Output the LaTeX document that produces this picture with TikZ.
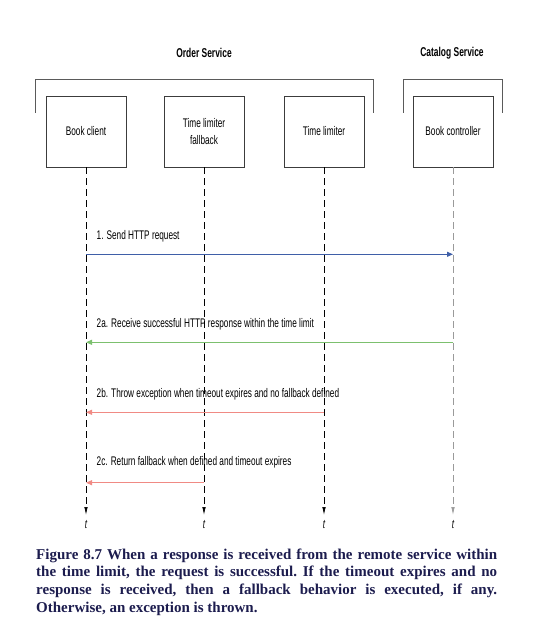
\documentclass[tikz,border=0pt]{standalone}
\usepackage{fontspec}
\usetikzlibrary{arrows.meta}
\newfontfamily\narrowfont[FakeStretch=0.66]{Liberation Sans}
\newfontfamily\capfont{Liberation Serif}
\definecolor{boxline}{HTML}{3C3C3C}
\definecolor{bracketgray}{HTML}{5A5A5A}
\definecolor{msgblue}{HTML}{3F5FA8}
\definecolor{msggreen}{HTML}{7CC06E}
\definecolor{msgred}{HTML}{F08A84}
\definecolor{capnavy}{HTML}{1C1C4E}
\definecolor{lifegray}{HTML}{9A9A9A}
\tikzset{
  actor/.style={draw=boxline, line width=0.8pt, minimum width=80pt, minimum height=71pt,
    font=\narrowfont\fontsize{12.5}{17.3}\selectfont, align=center, inner sep=0pt},
  grouplabel/.style={font=\narrowfont\bfseries\fontsize{12.8}{14}\selectfont, inner sep=0pt},
  bracketline/.style={draw=bracketgray, line width=0.8pt},
  lifeline/.style={draw=black, line width=0.7pt, dash pattern=on 7pt off 4pt,
    -{Latex[length=8pt,width=3.5pt]}},
  msglabel/.style={font=\narrowfont\fontsize{12.5}{14}\selectfont, anchor=west, inner sep=0pt},
  msg/.style={line width=1pt, -{Triangle[length=6pt,width=5pt]}},
  tlabel/.style={font=\narrowfont\itshape\fontsize{12.5}{14}\selectfont, inner sep=0pt},
}
\begin{document}
\begin{tikzpicture}[x=1pt,y=-1pt]
\useasboundingbox (0,0) rectangle (553,636);
% group labels
\node[grouplabel] (order) at (204,53) {Order Service};
\node[grouplabel] (catalog) at (452,53) {Catalog Service};
% brackets
\coordinate (ob1) at (35.5,113);
\coordinate (ob2) at (35.5,79.5);
\coordinate (ob3) at (373,79.5);
\coordinate (ob4) at (373,113);
\draw[bracketline] (ob1) -- (ob2) -- (ob3) -- (ob4);
\coordinate (cb1) at (403.5,113);
\coordinate (cb2) at (403.5,79.5);
\coordinate (cb3) at (502.5,79.5);
\coordinate (cb4) at (502.5,113);
\draw[bracketline] (cb1) -- (cb2) -- (cb3) -- (cb4);
% actors
\node[actor] (bc) at (86,131.5) {Book client};
\node[actor] (tlf) at (204,131.5) {Time limiter\\fallback};
\node[actor] (tl) at (324,131.5) {Time limiter};
\node[actor] (ctrl) at (453,131.5) {Book controller};
% lifeline ends
\coordinate (bcend) at (86,515);
\coordinate (tlfend) at (204,515);
\coordinate (tlend) at (324,515);
\coordinate (ctrlend) at (453,515);
\draw[lifeline] (bc.south) -- (bcend);
\draw[lifeline] (tlf.south) -- (tlfend);
\draw[lifeline] (tl.south) -- (tlend);
\draw[lifeline, draw=lifegray] (ctrl.south) -- (ctrlend);
\node[tlabel] (t1) at (86,525) {t};
\node[tlabel] (t2) at (204,525) {t};
\node[tlabel] (t3) at (324,525) {t};
\node[tlabel] (t4) at (453,525) {t};
% message heights
\coordinate (y1) at (0,254.3);
\coordinate (y2) at (0,342.3);
\coordinate (y3) at (0,412.3);
\coordinate (y4) at (0,482.7);
\draw[msg, draw=msgblue, fill=msgblue] (bc |- y1) -- (ctrl |- y1);
\draw[msg, draw=msggreen, fill=msggreen] (ctrl |- y2) -- (bc |- y2);
\draw[msg, draw=msgred, fill=msgred] (tl |- y3) -- (bc |- y3);
\draw[msg, draw=msgred, fill=msgred] (tlf |- y4) -- (bc |- y4);
\node[msglabel] (l1) at (96.5,236) {1. Send HTTP request};
\node[msglabel] (l2) at (96.5,324) {2a. Receive successful HTTP response within the time limit};
\node[msglabel] (l3) at (96.5,394) {2b. Throw exception when timeout expires and no fallback defined};
\node[msglabel] (l4) at (96.5,462) {2c. Return fallback when defined and timeout expires};
% caption
\node[anchor=north west, inner sep=0pt, text width=461pt, align=justify,
  font=\capfont\bfseries\fontsize{15}{17.7}\selectfont, text=capnavy] (cap) at (36,548.5)
  {\frenchspacing\hyphenpenalty=10000 Figure 8.7 When a response is received from the remote service within\linebreak the time limit, the request is successful. If the timeout expires and no\linebreak response is received, then a fallback behavior is executed, if any.\linebreak Otherwise, an exception is thrown.};
\end{tikzpicture}
\end{document}
